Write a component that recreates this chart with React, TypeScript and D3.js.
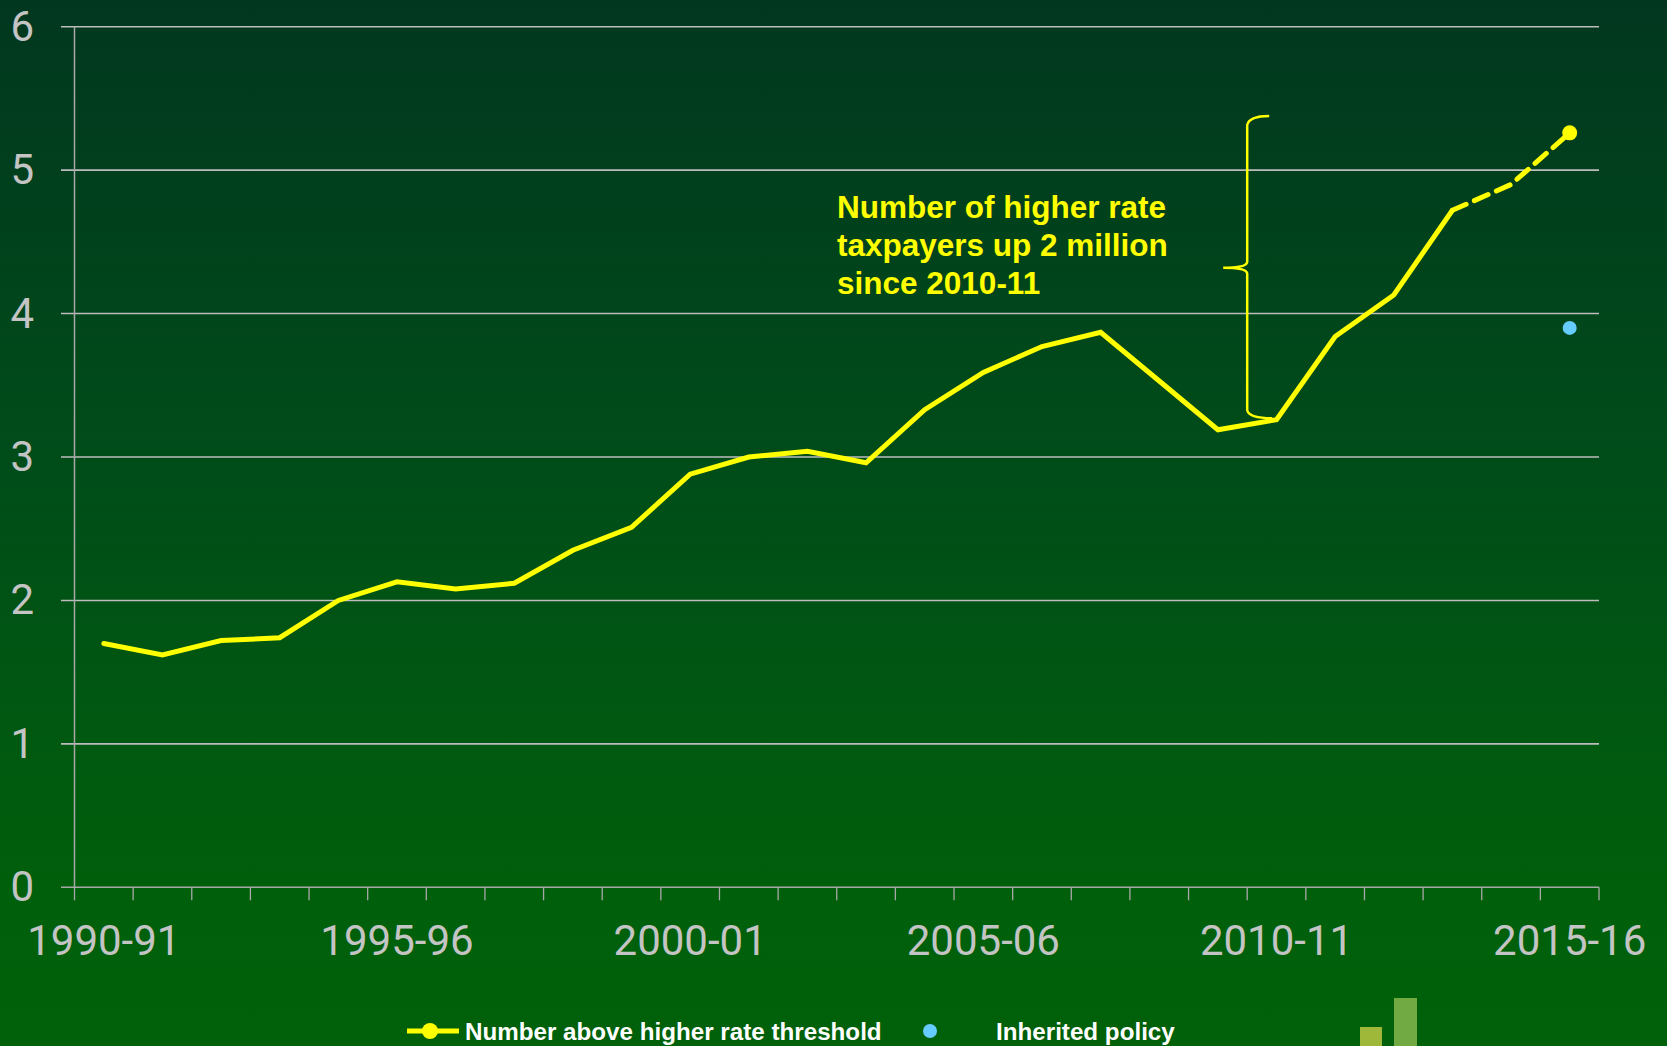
import React from "react";
import * as d3 from "d3";

const categories = [
  "1990-91", "1991-92", "1992-93", "1993-94", "1994-95", "1995-96", "1996-97",
  "1997-98", "1998-99", "1999-00", "2000-01", "2001-02", "2002-03", "2003-04",
  "2004-05", "2005-06", "2006-07", "2007-08", "2008-09", "2009-10", "2010-11",
  "2011-12", "2012-13", "2013-14", "2014-15", "2015-16",
];
const labelledCategories = ["1990-91", "1995-96", "2000-01", "2005-06", "2010-11", "2015-16"];
const yTicks = [0, 1, 2, 3, 4, 5, 6];

// Number above higher rate threshold (millions), outturn
const outturn = [
  1.70, 1.62, 1.72, 1.74, 2.00, 2.13, 2.08, 2.12, 2.35, 2.51, 2.88, 3.00, 3.04,
  2.96, 3.33, 3.59, 3.77, 3.87, 3.53, 3.19, 3.26, 3.84, 4.13, 4.72,
];
// Projection (dashed)
const projCategories = ["2013-14", "2014-15", "2015-16"];
const projection = [4.72, 4.90, 5.26];
// Inherited policy
const inheritedCategory = "2015-16";
const inheritedValue = 3.9;

const annotationLines = ["Number of higher rate", "taxpayers up 2 million", "since 2010-11"];
const braceFrom = 3.27;
const braceTo = 5.37;
const braceCategory = "2010-11";

const W = 1667;
const H = 1046;

export default function App() {
  const x = d3.scaleBand<string>().domain(categories).range([74.5, 1599]).padding(0);
  const y = d3.scaleLinear().domain([0, 6]).range([887.3, 26.7]);
  const cx = (c: string) => (x(c) as number) + x.bandwidth() / 2;

  const line = d3
    .line<number>()
    .x((_, i) => cx(categories[i]))
    .y((d) => y(d));
  const projLine = d3
    .line<number>()
    .x((_, i) => cx(projCategories[i]))
    .y((d) => y(d));

  const tickXs = categories.map((c) => x(c) as number).concat([x.range()[1]]);

  const yellow = "#ffff00";
  const grid = "#bdbdbd";
  const axisCol = "#a8a8a8";
  const labelCol = "#c4c4c4";

  // brace geometry
  const bx = x(braceCategory) as number;
  const bTop = y(braceTo);
  const bBot = y(braceFrom);
  const bMid = (bTop + bBot) / 2;
  const bracePath = [
    `M${bx + 22},${bTop - 1}`,
    `Q${bx + 2},${bTop - 1} ${bx},${bTop + 8}`,
    `L${bx},${bMid - 6}`,
    `Q${bx},${bMid} ${bx - 24},${bMid}`,
    `Q${bx},${bMid} ${bx},${bMid + 6}`,
    `L${bx},${bBot - 8}`,
    `Q${bx + 2},${bBot} ${bx + 25},${bBot}`,
  ].join(" ");

  const axisFont = "Roboto, 'Open Sans', sans-serif";

  return (
    <svg
      width={W}
      height={H}
      style={{ position: "absolute", left: 0, top: 0, display: "block" }}
    >
      <defs>
        <linearGradient id="bg" x1="0" y1="0" x2="0" y2={H} gradientUnits="userSpaceOnUse">
          <stop offset="0" stopColor="#01371f" />
          <stop offset="0.45" stopColor="#004d19" />
          <stop offset="0.85" stopColor="#005f0b" />
          <stop offset="1" stopColor="#00610a" />
        </linearGradient>
      </defs>
      <rect x={0} y={0} width={W} height={H} fill="url(#bg)" />

      {/* gridlines + y ticks */}
      {yTicks.map((t) => (
        <line
          key={"g" + t}
          x1={61}
          x2={x.range()[1]}
          y1={y(t)}
          y2={y(t)}
          stroke={t === 0 ? axisCol : grid}
          strokeWidth={t === 0 ? 1.5 : 1.6}
        />
      ))}
      {/* y axis */}
      <line x1={74.5} x2={74.5} y1={y(6)} y2={y(0)} stroke={axisCol} strokeWidth={1.5} />
      {/* x ticks */}
      {tickXs.map((tx, i) => (
        <line key={"t" + i} x1={tx} x2={tx} y1={y(0)} y2={y(0) + 13} stroke={axisCol} strokeWidth={1.3} />
      ))}

      {/* y labels */}
      {yTicks.map((t) => (
        <text
          key={"yl" + t}
          x={34}
          y={y(t) + 14}
          textAnchor="end"
          fill={labelCol}
          fontFamily={axisFont}
          fontSize={42}
        >
          {t}
        </text>
      ))}
      {/* x labels */}
      {labelledCategories.map((c) => (
        <text
          key={"xl" + c}
          x={cx(c)}
          y={955}
          textAnchor="middle"
          fill={labelCol}
          fontFamily={axisFont}
          fontSize={42}
        >
          {c}
        </text>
      ))}

      {/* series */}
      <path d={line(outturn) || ""} fill="none" stroke={yellow} strokeWidth={5} strokeLinejoin="miter" strokeLinecap="round" />
      <path d={projLine(projection) || ""} fill="none" stroke={yellow} strokeWidth={5} strokeDasharray="15 9" strokeLinecap="round" />
      <circle cx={cx(projCategories[projCategories.length - 1])} cy={y(projection[projection.length - 1])} r={7.5} fill={yellow} />
      <circle cx={cx(inheritedCategory)} cy={y(inheritedValue)} r={7} fill="#66ccff" />

      {/* brace + annotation */}
      <path d={bracePath} fill="none" stroke={yellow} strokeWidth={2.5} />
      {annotationLines.map((l, i) => (
        <text
          key={"a" + i}
          x={837}
          y={218 + i * 38}
          fill={yellow}
          fontFamily="'Liberation Sans', Arial, sans-serif"
          fontWeight="bold"
          fontSize={31.5}
        >
          {l}
        </text>
      ))}

      {/* legend */}
      <line x1={407} x2={459} y1={1031} y2={1031} stroke={yellow} strokeWidth={5} />
      <circle cx={430} cy={1031} r={8} fill={yellow} />
      <text x={465} y={1040} fill="#ffffff" fontFamily="'Liberation Sans', Arial, sans-serif" fontWeight="bold" fontSize={24.2}>
        Number above higher rate threshold
      </text>
      <circle cx={930} cy={1031} r={7} fill="#66ccff" />
      <text x={996} y={1040} fill="#ffffff" fontFamily="'Liberation Sans', Arial, sans-serif" fontWeight="bold" fontSize={24.2}>
        Inherited policy
      </text>

      {/* decorative slide bars */}
      <rect x={1360} y={1027} width={22} height={19} fill="#9fb83a" />
      <rect x={1394} y={998} width={23} height={48} fill="#71aa42" />
    </svg>
  );
}
